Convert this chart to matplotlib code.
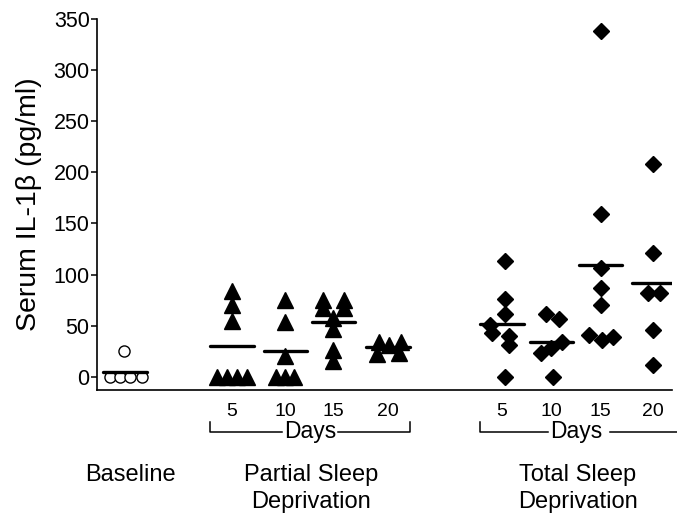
import numpy as np
import matplotlib
matplotlib.use('Agg')
import matplotlib.pyplot as plt

plt.rcParams['font.family'] = ['Liberation Sans', 'DejaVu Sans']

# group centres on the x axis (baseline, partial 5-20, total 5-20)
positions = [0, 1.98, 2.97, 3.86, 4.87, 6.98, 7.9, 8.81, 9.78]
day_labels = ['5', '10', '15', '20']

# serum IL-1b values (pg/ml)
baseline = [25, 0, 0, 0, 0]
partial_5 = [84, 70, 55, 0, 0, 0, 0]
partial_10 = [75, 54, 20, 0, 0, 0]
partial_15 = [75, 67, 75, 67, 57, 47, 26, 15]
partial_20 = [34, 31, 34, 22, 23]
total_5 = [113, 76, 61, 51, 43, 40, 31, 0]
total_10 = [61, 56, 23, 28, 34, 0]
total_15 = [338, 159, 106, 87, 70, 41, 36, 39]
total_20 = [208, 121, 82, 82, 46, 11]

# horizontal spread of the points inside each group
off_base = [-0.02, -0.28, -0.09, 0.09, 0.31]
off_p5 = [0, 0, 0, -0.28, -0.09, 0.09, 0.28]
off_p10 = [0, 0, 0, -0.17, 0, 0.15]
off_p15 = [-0.2, -0.2, 0.19, 0.19, 0, 0, 0, 0]
off_p20 = [-0.17, 0.02, 0.24, -0.2, 0.2]
off_t5 = [0.05, 0.05, 0.05, -0.22, -0.18, 0.13, 0.13, 0.05]
off_t10 = [-0.11, 0.13, -0.2, -0.02, 0.2, 0.02]
off_t15 = [0, 0, 0, 0, 0, -0.22, 0.02, 0.22]
off_t20 = [0, 0, -0.1, 0.12, 0, 0]

groups = [baseline, partial_5, partial_10, partial_15, partial_20,
          total_5, total_10, total_15, total_20]
offsets = [off_base, off_p5, off_p10, off_p15, off_p20,
           off_t5, off_t10, off_t15, off_t20]
markers = ['o'] + ['^'] * 4 + ['D'] * 4
sizes = [8] + [11.5] * 4 + [8.2] * 4

fig = plt.figure(figsize=(6.77, 5.2), dpi=100)
ax = fig.add_axes([97 / 677, 1 - 390 / 520, 575 / 677, 371 / 520])

for pos, vals, off, m, ms in zip(positions, groups, offsets, markers, sizes):
    xs = pos + np.array(off)
    if m == 'o':
        ax.plot(xs, vals, ls='none', marker=m, ms=ms, mfc='white',
                mec='black', mew=1.0, clip_on=False, zorder=3)
    else:
        ax.plot(xs, vals, ls='none', marker=m, ms=ms, color='black',
                clip_on=False, zorder=3)
    mean = np.mean(vals)
    ax.plot([pos - 0.4, pos + 0.4], [mean, mean], color='black', lw=2.4,
            solid_capstyle='round', zorder=4)

ax.set_xlim(-0.52, 10.13)
ax.set_ylim(-13, 350)
ax.set_yticks(np.arange(0, 351, 50))
ax.set_xticks(positions[1:])
ax.set_xticklabels(day_labels * 2)
ax.tick_params(axis='y', labelsize=15.5, length=4.5, width=1.1, direction='out', pad=0.8)
ax.tick_params(axis='x', labelsize=14, length=0, pad=9)
ax.spines['top'].set_visible(False)
ax.spines['right'].set_visible(False)
ax.spines['left'].set_linewidth(1.2)
ax.spines['bottom'].set_linewidth(1.2)
ax.set_ylabel('Serum IL-1\u03b2 (pg/ml)', fontsize=20.5, labelpad=8)

# "Days" brackets below the tick labels
tr = ax.get_xaxis_transform()
y_top, y_bot = -0.0855, -0.113
ax.plot([1.57, 1.57, 2.9], [y_top, y_bot, y_bot], transform=tr,
        color='black', lw=1.1, clip_on=False)
ax.plot([3.94, 5.28, 5.28], [y_bot, y_bot, y_top], transform=tr,
        color='black', lw=1.1, clip_on=False)
ax.plot([6.57, 6.57, 7.83], [y_top, y_bot, y_bot], transform=tr,
        color='black', lw=1.1, clip_on=False)
ax.plot([8.98, 10.6], [y_bot, y_bot], transform=tr,
        color='black', lw=1.1, clip_on=False)
for cx in [3.43, 8.36]:
    ax.text(cx, -0.112, 'Days', transform=tr, ha='center', va='center',
            fontsize=16.5)

# group names
fig.text(130 / 677, 1 - 464 / 520, 'Baseline', ha='center', va='top', fontsize=17)
fig.text(311 / 677, 1 - 464 / 520, 'Partial Sleep\nDeprivation', ha='center',
         va='top', fontsize=17, linespacing=1.27)
fig.text(578 / 677, 1 - 464 / 520, 'Total Sleep\nDeprivation', ha='center',
         va='top', fontsize=17, linespacing=1.27)

fig.savefig('out.png', dpi=100)
